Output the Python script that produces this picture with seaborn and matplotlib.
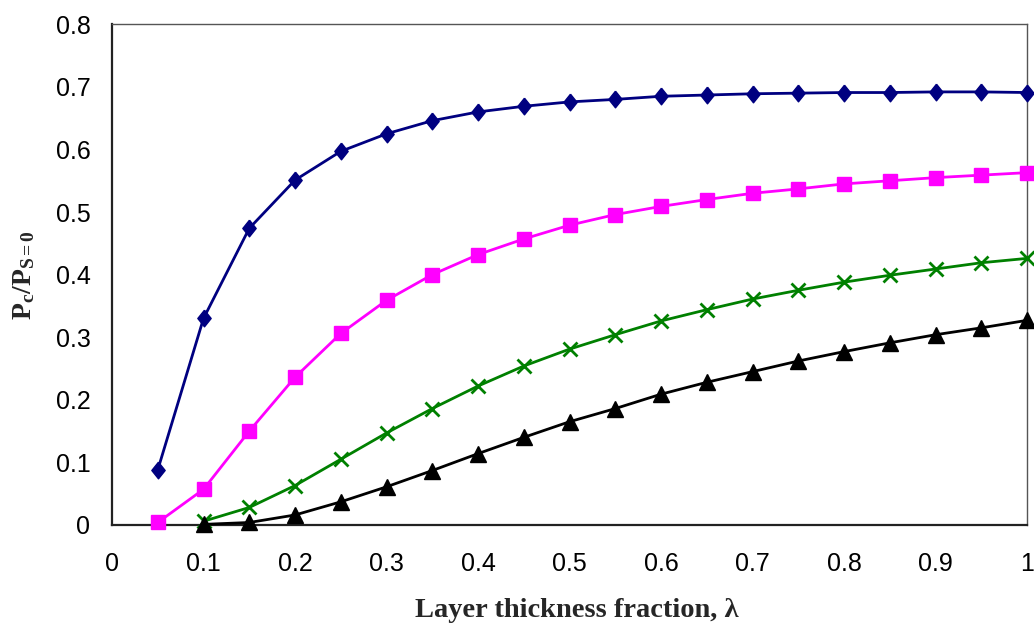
import matplotlib
matplotlib.use("Agg")
import matplotlib.pyplot as plt
import seaborn as sns
import numpy as np
import pandas as pd
from matplotlib.ticker import FuncFormatter

# ---- data ----
lam_a = [0.05, 0.10, 0.15, 0.20, 0.25, 0.30, 0.35, 0.40, 0.45, 0.50, 0.55, 0.60,
         0.65, 0.70, 0.75, 0.80, 0.85, 0.90, 0.95, 1.00]
lam_b = lam_a[1:]

blue_vals = [0.088, 0.330, 0.474, 0.551, 0.597, 0.625, 0.646, 0.660, 0.669, 0.676,
             0.680, 0.685, 0.687, 0.689, 0.690, 0.691, 0.691, 0.692, 0.692, 0.691]
magenta_vals = [0.004, 0.057, 0.150, 0.236, 0.306, 0.359, 0.400, 0.432, 0.457, 0.479,
                0.496, 0.509, 0.520, 0.530, 0.537, 0.545, 0.550, 0.555, 0.559, 0.563]
green_vals = [0.006, 0.028, 0.063, 0.105, 0.147, 0.186, 0.222, 0.254, 0.281, 0.304,
              0.326, 0.344, 0.361, 0.375, 0.388, 0.399, 0.409, 0.419, 0.426]
black_vals = [0.001, 0.004, 0.016, 0.037, 0.061, 0.087, 0.114, 0.140, 0.165, 0.186,
              0.209, 0.228, 0.245, 0.262, 0.277, 0.291, 0.304, 0.315, 0.327]

x_ticks = [0, 0.1, 0.2, 0.3, 0.4, 0.5, 0.6, 0.7, 0.8, 0.9, 1.0]
y_ticks = [0, 0.1, 0.2, 0.3, 0.4, 0.5, 0.6, 0.7, 0.8]
x_label = "Layer thickness fraction, λ"
y_label = r"$\mathbf{P_c/P_{S=0}}$"

# ---- style ----
sns.set_style("white")
plt.rcParams["font.family"] = ["Liberation Sans", "DejaVu Sans"]
plt.rcParams["mathtext.fontset"] = "custom"
plt.rcParams["mathtext.rm"] = "Liberation Serif"
plt.rcParams["mathtext.bf"] = "Liberation Serif:bold"
plt.rcParams["mathtext.it"] = "Liberation Serif:italic"

fig = plt.figure(figsize=(10.34, 6.25), dpi=100)
ax_w = (1027 - 112) / 1034
ax_h = (525 - 24.3) / 625
ax = fig.add_axes([112/1034, 1 - 525/625, ax_w, ax_h])

tall_diamond = [(0, 1), (0.8, 0), (0, -1), (-0.8, 0), (0, 1)]

series = [
    (lam_a, blue_vals, "#000080", tall_diamond, 12, 1.0),
    (lam_a, magenta_vals, "#FF00FF", "s", 10, 1.0),
    (lam_b, green_vals, "#008000", "x", 10, 2.0),
    (lam_b, black_vals, "#000000", "^", 11, 1.0),
]
for xs, ys, col, mk, ms, mew in series:
    sns.lineplot(x=xs, y=ys, ax=ax, color=col, linewidth=2.0, marker=mk,
                 markersize=ms, markeredgewidth=mew, markeredgecolor=col,
                 markerfacecolor=col, clip_on=False, zorder=3)

ax.set_xlim(0, 1)
ax.set_ylim(0, 0.8)
ax.set_xticks(x_ticks)
ax.set_yticks(y_ticks)
fmt = FuncFormatter(lambda v, p: f"{v:g}")
ax.xaxis.set_major_formatter(fmt)
ax.yaxis.set_major_formatter(fmt)
ax.tick_params(axis="both", labelsize=18, labelcolor="#000000", direction="out",
               length=6.5, width=1, color="#444444")
ax.tick_params(axis="y", pad=9)
ax.tick_params(axis="x", pad=13)

for side in ["left", "bottom"]:
    ax.spines[side].set_color("#222222")
    ax.spines[side].set_linewidth(1.6)
for side in ["top", "right"]:
    ax.spines[side].set_color("#555555")
    ax.spines[side].set_linewidth(1.0)

ax.set_xlabel(x_label, fontsize=20.5, fontweight="bold",
              family=["Liberation Serif", "DejaVu Serif"])
ax.set_ylabel(y_label, fontsize=20)
ax.xaxis.set_label_coords((577 - 112) / 915, (525 - 598) / 500.7)
ax.yaxis.set_label_coords((37 - 112) / 915, 0.5)

fig.savefig("out.png", dpi=100)
